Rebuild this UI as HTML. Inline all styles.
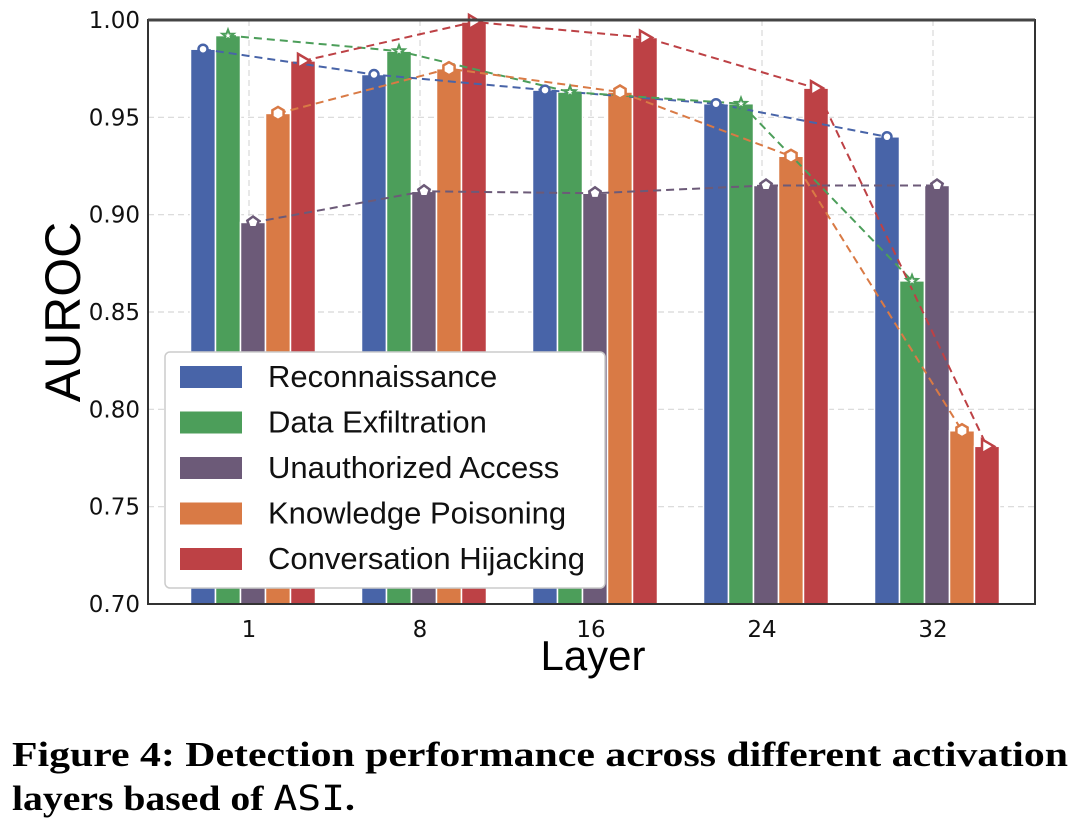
<!DOCTYPE html>
<html><head><meta charset="utf-8"><style>
body{margin:0;background:#fff;width:1076px;height:838px;overflow:hidden}
</style></head><body>
<svg id="chart" width="1076" height="720" style="position:absolute;left:0;top:0" font-family="DejaVu Sans, Liberation Sans, sans-serif"></svg>
<svg width="1076" height="118" style="position:absolute;left:0;top:720px">
<text x="12" y="46" font-family="Liberation Serif, serif" font-weight="bold" font-size="35" textLength="1056" lengthAdjust="spacingAndGlyphs">Figure 4: Detection performance across different activation</text>
<text x="12" y="90" font-family="Liberation Serif, serif" font-weight="bold" font-size="35" textLength="343" lengthAdjust="spacingAndGlyphs">layers based of <tspan font-family="DejaVu Sans Mono, Liberation Mono, monospace" font-weight="normal">ASI</tspan>.</text>
</svg>
<script>
const categories=["1","8","16","24","32"];
const seriesNames=["Reconnaissance","Data Exfiltration","Unauthorized Access","Knowledge Poisoning","Conversation Hijacking"];
const recon=[0.985,0.972,0.964,0.957,0.940];
const exfil=[0.992,0.984,0.963,0.957,0.866];
const unauth=[0.896,0.912,0.911,0.915,0.915];
const poison=[0.952,0.975,0.963,0.930,0.789];
const hijack=[0.979,0.999,0.991,0.965,0.781];
const yTicks=[0.70,0.75,0.80,0.85,0.90,0.95,1.00];
const colors=["#4864a8","#4c9e5a","#6c5a78","#d97a45","#bd4145"];
const series=[recon,exfil,unauth,poison,hijack];
const NS="http://www.w3.org/2000/svg";
const svg=document.getElementById('chart');
const L=148,R=1035,T=20,B=604;
function y(v){return B-(v-0.70)/0.30*(B-T);}
function xc(i){return 249+i*171;}
const bw=25;
function bx(i,s){return xc(i)-2.5*bw+s*bw+4;}
function mk(tag,a,p){const e=document.createElementNS(NS,tag);for(const k in a)e.setAttribute(k,a[k]);(p||svg).appendChild(e);return e;}
yTicks.forEach(t=>{
 const g=mk('line',{x1:L,x2:R,y1:y(t),y2:y(t),stroke:'#d8d8d8','stroke-dasharray':'6,4','stroke-width':1.2});
 
 const tx=mk('text',{x:L-8,y:y(t)+8,'text-anchor':'end','font-size':23,fill:'#111'});tx.textContent=t.toFixed(2);
 
});
categories.forEach((c,i)=>{
 const g=mk('line',{x1:xc(i),x2:xc(i),y1:T,y2:B,stroke:'#d8d8d8','stroke-dasharray':'6,4','stroke-width':1.2});
 
 const tx=mk('text',{x:xc(i),y:B+33,'text-anchor':'middle','font-size':23,fill:'#111'});tx.textContent=c;
 
});
series.forEach((d,s)=>{d.forEach((v,i)=>{
 const r=mk('rect',{x:bx(i,s),y:y(v),width:bw,height:B-y(v),fill:colors[s],stroke:'#fff','stroke-width':1.5});
 
 
});});
function marker(s,cx,cy){
 const c=colors[s];let e;
 if(s===0)e=mk('circle',{cx,cy,r:4.5,fill:'#fff',stroke:c,'stroke-width':2.5});
 else if(s===1){let p=[];for(let k=0;k<10;k++){const a=-Math.PI/2+k*Math.PI/5,rr=k%2?2.5:6;p.push((cx+rr*Math.cos(a)).toFixed(1)+','+(cy+rr*Math.sin(a)).toFixed(1));}e=mk('polygon',{points:p.join(' '),fill:'#fff',stroke:c,'stroke-width':2});}
 else if(s===2){let p=[];for(let k=0;k<5;k++){const a=-Math.PI/2+k*2*Math.PI/5;p.push((cx+6*Math.cos(a)).toFixed(1)+','+(cy+6*Math.sin(a)).toFixed(1));}e=mk('polygon',{points:p.join(' '),fill:'#fff',stroke:c,'stroke-width':2.5});}
 else if(s===3){let p=[];for(let k=0;k<6;k++){const a=-Math.PI/2+k*Math.PI/3;p.push((cx+6.5*Math.cos(a)).toFixed(1)+','+(cy+6.5*Math.sin(a)).toFixed(1));}e=mk('polygon',{points:p.join(' '),fill:'#fff',stroke:c,'stroke-width':2.5});}
 else e=mk('polygon',{points:(cx-5)+','+(cy-7)+' '+(cx+7)+','+cy+' '+(cx-5)+','+(cy+7),fill:'#fff',stroke:c,'stroke-width':2.5});
 
 
}
series.forEach((d,s)=>{
 const pts=d.map((v,i)=>(bx(i,s)+bw/2)+','+y(v)).join(' ');
 const pl=mk('polyline',{points:pts,fill:'none',stroke:colors[s],'stroke-width':2,'stroke-dasharray':'8,5'});
 
 
});
series.forEach((d,s)=>d.forEach((v,i)=>marker(s,bx(i,s)+bw/2,y(v))));
const fr=mk('rect',{x:L,y:T,width:R-L,height:B-T,fill:'none',stroke:'#333','stroke-width':2});

const tb=mk('line',{x1:L,x2:R,y1:T,y2:T,stroke:'#444','stroke-width':3});

const yt=mk('text',{x:0,y:0,'text-anchor':'middle','font-size':50,fill:'#000',transform:'translate(80,312) rotate(-90)','font-family':'Liberation Sans, sans-serif'});yt.textContent='AUROC';

const xt=mk('text',{x:593,y:670,'text-anchor':'middle','font-size':42,fill:'#000','font-family':'Liberation Sans, sans-serif'});xt.textContent='Layer';

const lg=mk('rect',{x:165,y:352,width:440,height:236,rx:5,fill:'#fff',stroke:'#ccc','stroke-width':1.5});

seriesNames.forEach((n,s)=>{
 const yy=377+s*45.5;
 const sw=mk('rect',{x:180,y:yy-11,width:62,height:22,fill:colors[s]});
 
 const t=mk('text',{x:268,y:yy+10,'font-size':31,fill:'#111','font-family':'Liberation Sans, sans-serif'});t.textContent=n;
 
});
</script>
</body></html>
